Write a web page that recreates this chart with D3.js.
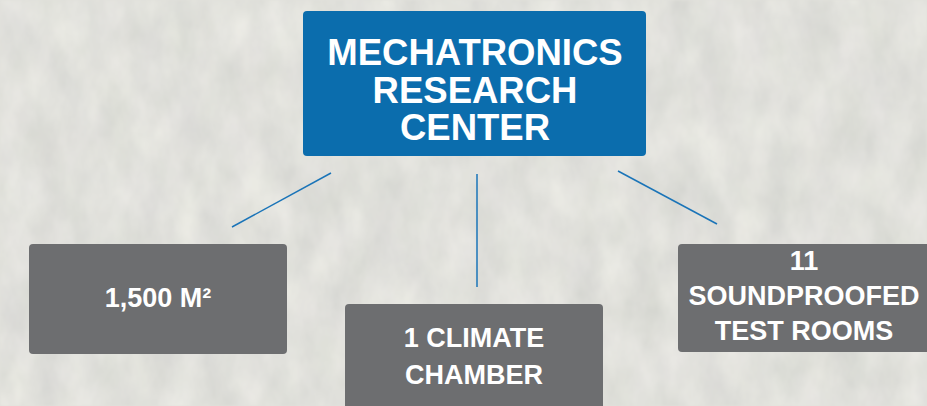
<!DOCTYPE html>
<html>
<head>
<meta charset="utf-8">
<script src="https://cdn.jsdelivr.net/npm/d3@7"></script>
<style>
  html, body { margin: 0; padding: 0; background: #e0e0db; }
  svg { display: block; }
  text { font-family: "Liberation Sans", Arial, sans-serif; font-weight: bold; fill: #ffffff; }
</style>
</head>
<body>
<svg id="chart" width="927" height="406"></svg>
<script>
// ---- data ----
const rootLabel = ["MECHATRONICS", "RESEARCH", "CENTER"];
const childLabels = [
  ["1,500 M²"],
  ["1 CLIMATE", "CHAMBER"],
  ["11", "SOUNDPROOFED", "TEST ROOMS"]
];
const childIds = ["area", "climate", "rooms"];

// ---- layout ----
const W = 927, H = 406;
const svg = d3.select("#chart");
const defs = svg.append("defs");

// background texture (deterministic noise filter)
const f = defs.append("filter").attr("id", "tex")
  .attr("x", 0).attr("y", 0).attr("width", "100%").attr("height", "100%")
  .attr("color-interpolation-filters", "sRGB");
f.append("feTurbulence").attr("type", "fractalNoise")
  .attr("baseFrequency", "0.03 0.018").attr("numOctaves", 4).attr("seed", 7).attr("result", "n");
f.append("feColorMatrix").attr("in", "n").attr("type", "matrix")
  .attr("values", [
    0.11, 0.03, 0, 0, 0.81,
    0.10, 0.04, 0, 0, 0.81,
    0.10, 0.02, 0.01, 0, 0.795,
    0, 0, 0, 0, 1].join(" ")).attr("result", "c");
f.append("feGaussianBlur").attr("in", "c").attr("stdDeviation", 0.8);

svg.append("rect").attr("width", W).attr("height", H).attr("fill", "#e0e0db");
svg.append("rect").attr("width", W).attr("height", H).attr("filter", "url(#tex)");

// box geometry
const x = d3.scaleOrdinal().domain(childIds).range([29, 345, 678]);
const y = d3.scaleOrdinal().domain(childIds).range([244, 304, 244]);
const bw = d3.scaleOrdinal().domain(childIds).range([258, 258, 252]);
const bh = d3.scaleOrdinal().domain(childIds).range([110, 120, 108]);
const baseline0 = d3.scaleOrdinal().domain(childIds).range([307, 347, 270]);
const lineH = d3.scaleOrdinal().domain(childIds).range([35, 37, 35]);

// connectors
const links = [
  {id: "area",    x1: 331, y1: 173, x2: 232, y2: 227},
  {id: "climate", x1: 477, y1: 174, x2: 477, y2: 287},
  {id: "rooms",   x1: 618, y1: 171, x2: 717, y2: 224}
];
svg.selectAll("line.link").data(links).join("line")
  .attr("class", "link")
  .attr("x1", d => d.x1).attr("y1", d => d.y1)
  .attr("x2", d => d.x2).attr("y2", d => d.y2)
  .attr("stroke", "#1a74b8").attr("stroke-width", 1.5);

// root box
const root = svg.append("g");
root.append("rect").attr("x", 303).attr("y", 11).attr("width", 343).attr("height", 145)
  .attr("rx", 4).attr("fill", "#0b6dad");
root.selectAll("text").data(rootLabel).join("text")
  .attr("x", 475).attr("y", (d, i) => 65 + i * 37.5)
  .attr("text-anchor", "middle").attr("font-size", 36.5)
  .text(d => d);

// child boxes
const kids = svg.selectAll("g.child").data(childIds.map((id, i) => ({id, lines: childLabels[i]})))
  .join("g").attr("class", "child");
kids.append("rect")
  .attr("x", d => x(d.id)).attr("y", d => y(d.id))
  .attr("width", d => bw(d.id)).attr("height", d => bh(d.id))
  .attr("rx", 4).attr("fill", "#6d6e70");
kids.each(function(d) {
  d3.select(this).selectAll("text").data(d.lines).join("text")
    .attr("x", x(d.id) + bw(d.id) / 2)
    .attr("y", (t, i) => baseline0(d.id) + i * lineH(d.id))
    .attr("text-anchor", "middle").attr("font-size", 27)
    .text(t => t);
});
</script>
</body>
</html>
